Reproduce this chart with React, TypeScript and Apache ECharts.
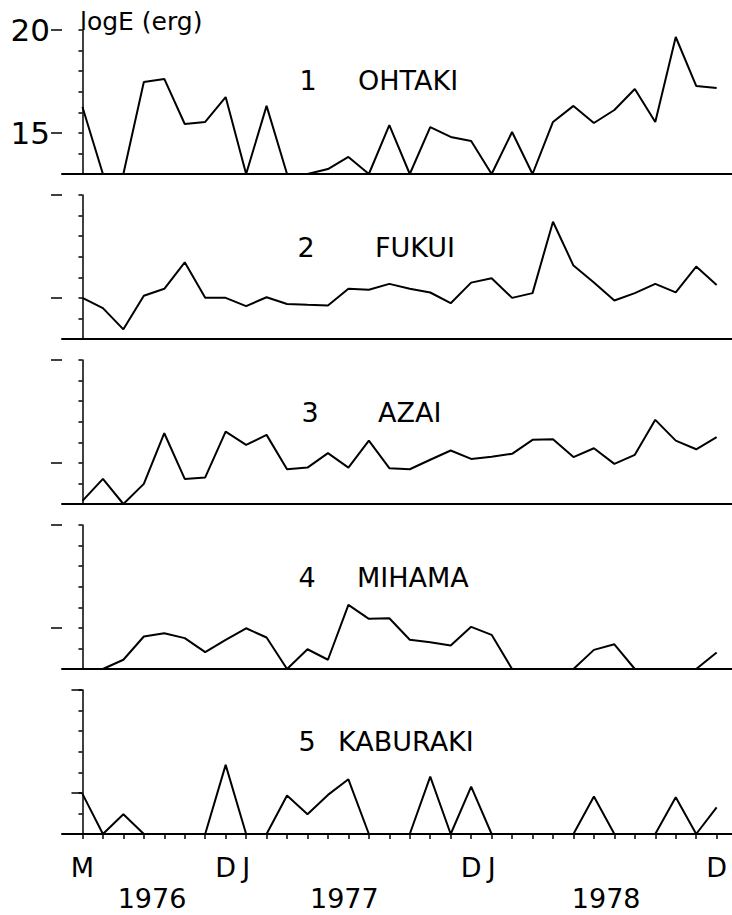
import React, { useEffect, useRef } from "react";
import * as echarts from "echarts";

// Months: May 1976 (index 0) ... Dec 1978 (index 31)
const monthLabelIdx = [0, 7, 8, 19, 20, 31];
const monthLabelText = ["M", "D", "J", "D", "J", "D"];
const yearText = ["1976", "1977", "1978"];
const yearLabelPos = [3.4, 12.8, 25.6];
const monthTickIdx = Array.from({ length: 32 }, (_, k) => k);

const yLabelValues = [15, 20];
const yLabelText = ["15", "20"];

const stationNums = ["1", "2", "3", "4", "5"];
const stationNames = ["OHTAKI", "FUKUI", "AZAI", "MIHAMA", "KABURAKI"];

const ohtaki = [16.26, 13, 13, 17.47, 17.62, 15.43, 15.53, 16.74, 13, 16.31, 13, 13, 13.24, 13.83, 13, 15.38,
  13, 15.28, 14.8, 14.6, 13, 15.04, 13, 15.53, 16.31, 15.48, 16.11, 17.13, 15.53, 19.66, 17.28, 17.18];
const fukui = [15.0, 14.5, 13.47, 15.1, 15.44, 16.73, 15.0, 15.0, 14.6, 15.03, 14.7, 14.66, 14.63, 15.44, 15.39, 15.68,
  15.44, 15.26, 14.74, 15.74, 15.95, 15.0, 15.23, 18.7, 16.57, 15.75, 14.87, 15.23, 15.68, 15.27, 16.52, 15.63];
const azai = [13.15, 14.22, 13.0, 13.98, 16.44, 14.22, 14.29, 16.52, 15.87, 16.36, 14.69, 14.77, 15.47, 14.77, 16.08, 14.74,
  14.69, 15.15, 15.6, 15.19, 15.3, 15.44, 16.12, 16.15, 15.28, 15.71, 14.95, 15.39, 17.09, 16.08, 15.66, 16.25];
const mihama = [13, 13, 13.45, 14.58, 14.74, 14.5, 13.82, 14.42, 14.98, 14.53, 13, 13.96, 13.45, 16.12, 15.44, 15.47,
  14.42, 14.3, 14.14, 15.05, 14.66, 13, 13, 13, 13, 13.93, 14.2, 13, 13, 13, 13, 13.8];
const kaburaki = [14.95, 13, 13.96, 13, 13, 13, 13, 16.36, 13, 13, 14.87, 13.96, 14.9, 15.66, 13, 13,
  13, 15.79, 13, 15.3, 13, 13, 13, 13, 13, 14.82, 13, 13, 13, 14.79, 13, 14.29];

const seriesData = [ohtaki, fukui, azai, mihama, kaburaki];

// layout
const W = 732;
const H = 915;
const gridLeft = 62;
const gridTops = [30, 195, 360, 525, 690];
const gridHeight = 144;
const numX = [308, 306, 310, 307, 307];
const nameX = [358, 375, 378, 357, 338];
const titleY = [80, 247, 412, 577, 741];
const FONT = "DejaVu Sans";

export default function App() {
  const ref = useRef<HTMLDivElement>(null);
  useEffect(() => {
    if (!ref.current) return;
    const chart = echarts.init(ref.current, undefined, { renderer: "svg" });
    const grids: any[] = [];
    const xAxes: any[] = [];
    const yAxes: any[] = [];
    const series: any[] = [];
    const graphics: any[] = [];
    for (let i = 0; i < 5; i++) {
      const last = i === 4;
      grids.push({ left: gridLeft, width: W - gridLeft, top: gridTops[i], height: gridHeight });
      xAxes.push({
        type: "value",
        gridIndex: i,
        min: -1,
        max: 31.75,
        axisLine: { show: true, onZero: false, lineStyle: { color: "#000", width: 2 } },
        axisTick: last
          ? { show: true, customValues: monthTickIdx, length: 5, inside: false, lineStyle: { color: "#000", width: 1.5 } }
          : { show: false },
        axisLabel: last
          ? {
              show: true,
              customValues: monthLabelIdx,
              margin: 20,
              color: "#000",
              fontSize: 27,
              fontFamily: FONT,
              formatter: (v: number) => monthLabelText[monthLabelIdx.indexOf(v)] ?? "",
            }
          : { show: false },
        splitLine: { show: false },
      });
      yAxes.push({
        type: "value",
        gridIndex: i,
        min: 13,
        max: 20,
        interval: 1,
        axisLine: { show: true, lineStyle: { color: "#000", width: 1.5 } },
        axisTick: { show: true, length: 4, inside: false, lineStyle: { color: "#000", width: 1.5 } },
        axisLabel:
          i === 0
            ? {
                show: true,
                customValues: yLabelValues,
                margin: 12,
                color: "#000",
                fontSize: 31,
                fontFamily: FONT,
                formatter: (v: number) => yLabelText[yLabelValues.indexOf(v)] ?? "",
              }
            : { show: false },
        splitLine: { show: false },
      });
      yAxes.push({
        type: "value",
        gridIndex: i,
        position: "left",
        min: 13,
        max: 20,
        axisLine: { show: false },
        axisTick: { show: true, customValues: yLabelValues, length: 11, inside: false, lineStyle: { color: "#000", width: 1.5 } },
        axisLabel: { show: false },
        splitLine: { show: false },
      });
      series.push({
        type: "line",
        xAxisIndex: i,
        yAxisIndex: 2 * i,
        data: seriesData[i].map((v, k) => [k, v]),
        showSymbol: false,
        symbol: "none",
        lineStyle: { color: "#000", width: 2 },
        silent: true,
      });
      graphics.push({
        type: "text",
        x: numX[i],
        y: titleY[i],
        style: { text: stationNums[i], fontSize: 27, fontFamily: FONT, fill: "#000", align: "center", verticalAlign: "middle" },
      });
      graphics.push({
        type: "text",
        x: nameX[i],
        y: titleY[i],
        style: { text: stationNames[i], fontSize: 27, fontFamily: FONT, fill: "#000", align: "left", verticalAlign: "middle" },
      });
    }
    xAxes.push({
      type: "value",
      gridIndex: 4,
      min: -1,
      max: 31.75,
      position: "bottom",
      axisLine: { show: false },
      axisTick: { show: false },
      axisLabel: {
        show: true,
        customValues: yearLabelPos,
        margin: 51,
        color: "#000",
        fontSize: 27,
        fontFamily: FONT,
        formatter: (v: number) => yearText[yearLabelPos.indexOf(v)] ?? "",
      },
      splitLine: { show: false },
    });
    graphics.push({
      type: "text",
      x: 80,
      y: 21,
      style: { text: "logE (erg)", fontSize: 25, fontFamily: FONT, fill: "#000", align: "left", verticalAlign: "middle" },
    });
    chart.setOption({
      animation: false,
      backgroundColor: "#fff",
      grid: grids,
      xAxis: xAxes,
      yAxis: yAxes,
      series,
      graphic: graphics,
    });
    return () => chart.dispose();
  }, []);
  return <div ref={ref} style={{ position: "absolute", left: 0, top: 0, width: W, height: H }} />;
}
